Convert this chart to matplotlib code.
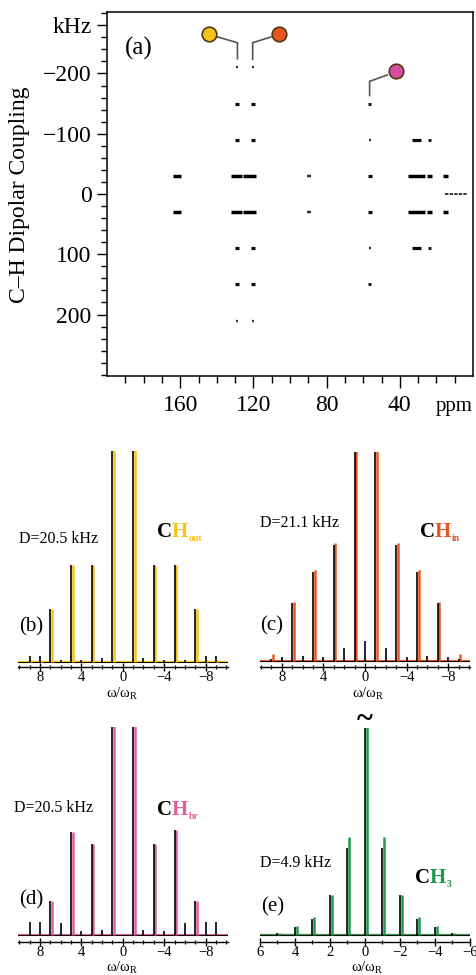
import matplotlib
matplotlib.use("Agg")
import matplotlib.pyplot as plt
from matplotlib.ticker import FixedLocator, MultipleLocator, FuncFormatter

plt.rcParams['font.family'] = ['Liberation Serif', 'DejaVu Serif']
plt.rcParams['mathtext.fontset'] = 'custom'
plt.rcParams['mathtext.rm'] = 'Liberation Serif'
plt.rcParams['mathtext.it'] = 'Liberation Serif:italic'
plt.rcParams['mathtext.bf'] = 'Liberation Serif:bold'

# ---------------------------------------------------------------- data
# (a) 2D separated-local-field spectrum: each cross peak spans
#     [ppm_hi, ppm_lo] at dipolar frequency khz, with relative intensity
slf_ppm_hi = [164.0, 164.0, 132.3, 125.8, 132.3, 125.8,
              130.0, 121.3, 130.0, 121.3, 130.0, 121.3, 130.0, 121.3,
              129.5, 120.7, 129.5, 120.7,
              90.9, 90.9,
              57.4, 57.4, 57.1, 57.1, 57.4, 57.4,
              35.5, 35.5, 25.0, 25.0, 33.6, 33.6, 24.7, 24.7,
              16.4, 16.4]
slf_ppm_lo = [159.6, 159.6, 126.2, 118.5, 126.2, 118.5,
              127.6, 119.0, 127.6, 119.0, 127.6, 119.0, 127.6, 119.0,
              128.4, 119.6, 128.4, 119.6,
              88.3, 88.3,
              55.2, 55.2, 55.8, 55.8, 55.5, 55.5,
              26.4, 26.4, 22.3, 22.3, 28.2, 28.2, 22.7, 22.7,
              13.6, 13.6]
slf_khz = [-30, 30, -30, -30, 30, 30,
           -90, -90, 90, 90, -150, -150, 150, 150,
           -210, -210, 210, 210,
           -30, 30,
           -30, 30, -90, 90, -150, 150,
           -30, 30, -30, 30, -90, 90, -90, 90,
           -30, 30]
slf_int = [1.0, 1.0, 1.0, 1.0, 1.0, 1.0,
           0.9, 0.9, 0.9, 0.9, 0.9, 0.9, 0.9, 0.9,
           0.55, 0.55, 0.55, 0.55,
           0.6, 0.6,
           0.9, 0.9, 0.6, 0.6, 0.8, 0.8,
           1.0, 1.0, 1.0, 1.0, 0.9, 0.9, 0.8, 0.8,
           1.0, 1.0]
# methyl ridge at zero dipolar frequency
ridge_ppm = (15.5, 2.7)

# labelled sites: ppm of column and colour
site_ppm = [128.7, 120.4, 56.5]
site_col = ['#f5c21b', '#e8561f', '#d94c9f']

# (b)-(e) dipolar sideband spectra: order -> intensity (exp / sim)
b_ord = [9, 8, 7, 6, 5, 4, 3, 2, 1, -1, -2, -3, -4, -5, -6, -7, -8, -9]
b_exp = [0.03, 0.03, 0.25, 0.01, 0.46, 0.01, 0.46, 0.02, 1.5,
         1.5, 0.02, 0.46, 0.01, 0.46, 0.01, 0.25, 0.03, 0.03]
b_sim = [0.01, 0.01, 0.25, 0.0, 0.46, 0.0, 0.46, 0.0, 1.5,
         1.5, 0.0, 0.46, 0.0, 0.46, 0.0, 0.25, 0.01, 0.01]

c_ord = [9, 8, 7, 6, 5, 4, 3, 2, 1, 0, -1, -2, -3, -4, -5, -6, -7, -8, -9]
c_exp = [0.01, 0.02, 0.275, 0.025, 0.42, 0.02, 0.55, 0.06, 1.5, 0.095,
         1.5, 0.06, 0.55, 0.02, 0.42, 0.025, 0.275, 0.02, 0.01]
c_sim = [0.035, 0.0, 0.28, 0.0, 0.43, 0.0, 0.56, 0.0, 1.5, 0.0,
         1.5, 0.0, 0.56, 0.0, 0.43, 0.0, 0.28, 0.0, 0.035]

d_ord = [9, 8, 7, 6, 5, 4, 3, 2, 1, -1, -2, -3, -4, -5, -6, -7, -8, -9]
d_exp = [0.06, 0.06, 0.16, 0.055, 0.49, 0.02, 0.43, 0.025, 1.5,
         1.5, 0.025, 0.43, 0.02, 0.50, 0.055, 0.16, 0.06, 0.06]
d_sim = [0.0, 0.0, 0.16, 0.0, 0.49, 0.0, 0.43, 0.0, 1.5,
         1.5, 0.0, 0.43, 0.0, 0.50, 0.0, 0.16, 0.0, 0.0]

e_ord = [5, 4, 3, 2, 1, 0, -1, -2, -3, -4, -5]
e_exp = [0.01, 0.04, 0.076, 0.19, 0.41, 1.5, 0.41, 0.19, 0.076, 0.04, 0.01]
e_sim = [0.01, 0.045, 0.085, 0.19, 0.465, 1.5, 0.465, 0.19, 0.085, 0.045, 0.01]

# ---------------------------------------------------------------- figure
W, H = 477, 975
fig = plt.figure(figsize=(W / 100, H / 100), dpi=100)


def box(x0, y0, x1, y1):
    return [x0 / W, 1 - y1 / H, (x1 - x0) / W, (y1 - y0) / H]


def ftext(x, y, s, **kw):
    return fig.text(x / W, 1 - y / H, s, **kw)


# ---------------------------------------------------------------- (a)
ax = fig.add_axes(box(107, 12, 473, 376))
ax.set_xlim(200, 0)
ax.set_ylim(302, -302)
for s in ax.spines.values():
    s.set_linewidth(1.1)

for hi, lo, k, a in zip(slf_ppm_hi, slf_ppm_lo, slf_khz, slf_int):
    ax.hlines(k, hi, lo, colors='black', lw=0.6 + 1.9 * a,
              capstyle='butt', alpha=0.55 + 0.45 * a)
ax.hlines(0, ridge_ppm[0], ridge_ppm[1], colors='black', lw=1.1,
          linestyles=(0, (2.2, 0.8)))

ax.yaxis.set_major_locator(FixedLocator([-280, -200, -100, 0, 100, 200]))
ax.set_yticklabels(['kHz', '\u2212200', '\u2212100', '0', '100', '200'])
ax.yaxis.set_minor_locator(FixedLocator(list(range(-300, 301, 20))))
ax.xaxis.set_major_locator(FixedLocator([160, 120, 80, 40]))
ax.xaxis.set_minor_locator(FixedLocator(list(range(190, 5, -10))))
ax.tick_params(axis='y', which='major', length=7, width=1.0, pad=4,
               labelsize=17)
ax.tick_params(axis='y', which='minor', length=4.5, width=1.0)
ax.tick_params(axis='x', which='major', length=8.5, width=1.0, pad=5,
               labelsize=17)
ax.tick_params(axis='x', which='minor', length=5, width=1.0)
ax.tick_params(right=False, top=False)

ftext(20, 195, 'C\u2013H Dipolar Coupling', rotation=90, ha='center',
      va='center', fontsize=17)
ftext(139, 48, '(a)', ha='center', va='center', fontsize=18)
ftext(454, 406, 'ppm', ha='center', va='center', fontsize=15)

# site markers with elbow leaders
circ = [(144.0, -266), (105.8, -266), (42.2, -204)]
elbow = [[(140.0, -261), (site_ppm[0], -251), (site_ppm[0], -223)],
         [(110.0, -261), (site_ppm[1], -251), (site_ppm[1], -222)],
         [(46.4, -198), (site_ppm[2], -187), (site_ppm[2], -162)]]
for (cx, cy), path, col in zip(circ, elbow, site_col):
    xs, ys = zip(*path)
    ax.plot(xs, ys, color='#555555', lw=1.2, solid_capstyle='butt')
    ax.plot([cx], [cy], 'o', ms=10.5, mfc=col, mec='#4a3a18', mew=1.2,
            clip_on=False)

# ---------------------------------------------------------------- (b)-(e)
S = 211.0  # pixels per unit intensity
minus_fmt = FuncFormatter(lambda v, p: ('\u2212%d' % -v) if v < 0 else '%d' % v)


def spectrum(x0, x1, top, base, axis, xlim, major, orders, exp, sim,
             col, shift):
    a = fig.add_axes(box(x0, top, x1, axis))
    a.set_xlim(*xlim)
    a.set_ylim(-(axis - base) / S, (base - top) / S)
    for side in ('left', 'right', 'top'):
        a.spines[side].set_visible(False)
    a.spines['bottom'].set_linewidth(1.0)
    a.set_yticks([])
    a.axhline(0, color=col, lw=1.6, zorder=1)
    a.axhline(0, color='black', lw=0.7, zorder=2)
    xs = [o - shift for o in orders]
    a.vlines(xs, 0, sim, colors=col, lw=1.8, zorder=3)
    a.vlines(orders, 0, exp, colors='black', lw=1.2, zorder=4)
    a.xaxis.set_major_locator(MultipleLocator(major))
    a.xaxis.set_minor_locator(MultipleLocator(1))
    a.xaxis.set_major_formatter(minus_fmt)
    a.tick_params(axis='x', which='major', direction='inout', length=5.5,
                  width=1.0, labelsize=10.5, pad=0)
    a.tick_params(axis='x', which='minor', direction='inout', length=3.5,
                  width=0.9)
    return a


spectrum(17.8, 227.8, 451, 662, 667, (10.15, -10.15), 4,
         b_ord, b_exp, b_sim, site_col[0], 0.15)
spectrum(260, 470, 451.7, 661, 667, (10.1, -10.1), 4,
         c_ord, c_exp, c_sim, site_col[1], 0.15)
spectrum(17.8, 227.8, 727.3, 935, 941.7, (10.15, -10.15), 4,
         d_ord, d_exp, d_sim, '#e0609f', 0.15)
spectrum(260, 470, 728.3, 935, 941.7, (6, -6), 2,
         e_ord, e_exp, e_sim, '#1f9a4c', 0.1)

for x, y in [(122.5, 686), (368, 686), (122.5, 960), (367, 960)]:
    ftext(x, y, '\u03c9/\u03c9$_\\mathrm{R}$', ha='center', va='top',
          fontsize=10.5)

ftext(59, 539, 'D=20.5 kHz', ha='center', va='center', fontsize=11.5)
ftext(300, 523, 'D=21.1 kHz', ha='center', va='center', fontsize=11.5)
ftext(54, 808, 'D=20.5 kHz', ha='center', va='center', fontsize=11.5)
ftext(296, 863, 'D=4.9 kHz', ha='center', va='center', fontsize=11.5)

ftext(31, 626.5, '(b)', ha='center', va='center', fontsize=15)
ftext(272, 625.5, '(c)', ha='center', va='center', fontsize=15)
ftext(31, 900, '(d)', ha='center', va='center', fontsize=15)
ftext(273, 907, '(e)', ha='center', va='center', fontsize=15)
ftext(365, 720, '~', ha='center', va='center', fontsize=22,
      fontweight='bold')


def site_label(x, y, sub, col):
    """Bold 'C' in black followed by coloured 'H' with a subscript."""
    c = ftext(x, y, 'C', ha='left', va='center', fontsize=15,
              fontweight='bold', color='black')
    h = fig.add_artist(matplotlib.text.Annotation(
        'H', xy=(1, 0), xycoords=c, ha='left', va='bottom', fontsize=15,
        fontweight='bold', color=col, annotation_clip=False))
    fig.add_artist(matplotlib.text.Annotation(
        sub, xy=(1, 0), xycoords=h, xytext=(0.5, -1),
        textcoords='offset points', ha='left', va='bottom', fontsize=7,
        fontweight='bold', color=col, annotation_clip=False))


site_label(156.7, 531.7, 'out', site_col[0])
site_label(420, 531.7, 'in', site_col[1])
site_label(157, 810, 'br', '#e0609f')
site_label(415, 878, '3', '#1f9a4c')

fig.savefig('out.png', dpi=100)
